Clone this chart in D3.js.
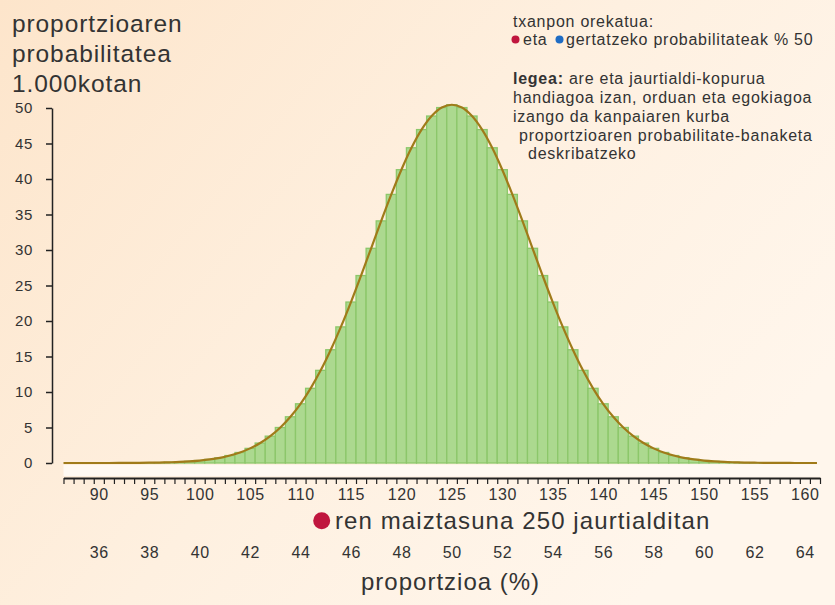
<!DOCTYPE html>
<html>
<head>
<meta charset="utf-8">
<script src="https://cdn.jsdelivr.net/npm/d3@7"></script>
<style>
  body { margin: 0; }
  svg { display: block; font-family: "Liberation Sans", Arial, sans-serif; }
  .tx { fill: #333; }
</style>
</head>
<body>
<svg id="chart" width="835" height="605"></svg>
<script>
// probabilitatea 1000 kotan, 250 jaurtialditan (87 .. 161)
var firstCount = 87;
var probs = [
  0.00, 0.00, 0.00, 0.00, 0.00, 0.01, 0.01, 0.02, 0.04, 0.06,
  0.10, 0.15, 0.23, 0.34, 0.50, 0.73, 1.05, 1.48, 2.06, 2.81,
  3.78, 5.00, 6.51, 8.34, 10.52, 13.05, 15.95, 19.17, 22.67, 26.40,
  30.24, 34.10, 37.83, 41.31, 44.40, 46.96, 48.87, 50.06, 50.46,
  50.06, 48.87, 46.96, 44.40, 41.31, 37.83, 34.10, 30.24, 26.40, 22.67,
  19.17, 15.95, 13.05, 10.52, 8.34, 6.51, 5.00, 3.78, 2.81, 2.06,
  1.48, 1.05, 0.73, 0.50, 0.34, 0.23, 0.15, 0.10, 0.06, 0.04,
  0.02, 0.01, 0.01, 0.00, 0.00, 0.00
];
var countTicks = [90, 95, 100, 105, 110, 115, 120, 125, 130, 135, 140, 145, 150, 155, 160];
var percentTicks = [36, 38, 40, 42, 44, 46, 48, 50, 52, 54, 56, 58, 60, 62, 64];
var yTicks = [0, 5, 10, 15, 20, 25, 30, 35, 40, 45, 50];
var flips = 250;

var data = probs.map(function(p, i){ return {k: firstCount + i, p: p}; });

var svg = d3.select('#chart');

// background
var defs = svg.append('defs');
var grad = defs.append('linearGradient').attr('id', 'bg')
    .attr('x1', 0).attr('y1', 0).attr('x2', 1).attr('y2', 0.6);
grad.append('stop').attr('offset', '0%').attr('stop-color', '#fde5cb');
grad.append('stop').attr('offset', '55%').attr('stop-color', '#fef0e0');
grad.append('stop').attr('offset', '100%').attr('stop-color', '#fff6ec');
svg.append('rect').attr('width', 835).attr('height', 605).attr('fill', 'url(#bg)');

var x = d3.scaleLinear().domain([86.5, 161.5]).range([63.5, 820]);
var y = d3.scaleLinear().domain([0, 50]).range([463, 108]);
var xp = d3.scaleLinear().domain([86.5 / flips * 100, 161.5 / flips * 100]).range([63.5, 820]);

// light band under bars
svg.append('rect')
    .attr('x', x(86.5)).attr('y', y(0) + 2)
    .attr('width', x(161.5) - x(86.5)).attr('height', 11)
    .attr('fill', '#fff9f2');

// bars
svg.append('g').selectAll('rect')
    .data(data.filter(function(d){ return d.p > 0; }))
    .enter()
    .append('rect')
    .attr('x', function(d){ return x(d.k - 0.5); })
    .attr('y', function(d){ return y(d.p); })
    .attr('width', function(d){ return x(d.k + 0.5) - x(d.k - 0.5); })
    .attr('height', function(d){ return y(0) - y(d.p); })
    .attr('fill', '#acd98f')
    .attr('stroke', '#8cc76a')
    .attr('stroke-width', 1.3);

// bell curve, flat tails run to the axis ends
var line = d3.line()
    .x(function(d){ return x(d.k); })
    .y(function(d){ return y(d.p); })
    .curve(d3.curveCatmullRom);
var curveData = [{k: 86.5, p: data[0].p}].concat(data, [{k: 161.2, p: data[data.length - 1].p}]);
svg.append('path')
    .datum(curveData)
    .attr('d', line)
    .attr('fill', 'none')
    .attr('stroke', '#a07b1a')
    .attr('stroke-width', 2.2);

// y axis
var yAxis = svg.append('g')
    .attr('transform', 'translate(52,0)')
    .call(d3.axisLeft(y).tickValues(yTicks).tickSize(6).tickSizeOuter(0).tickPadding(13));
yAxis.select('.domain').attr('stroke', '#222').attr('stroke-width', 1.5);
yAxis.selectAll('.tick line').attr('stroke', '#222').attr('stroke-width', 1.5);
yAxis.selectAll('.tick text')
    .attr('fill', '#333').style('font-size', '15px').style('letter-spacing', '0.6px')
    .attr('font-family', null);

// x axis: ticks at bin edges
var edgeTicks = data.map(function(d){ return d.k - 0.5; }).concat([161.5]);
var xAxis = svg.append('g')
    .attr('transform', 'translate(0,478)')
    .call(d3.axisBottom(x).tickValues(edgeTicks).tickSize(6).tickSizeOuter(0).tickFormat(''));
xAxis.select('.domain').attr('stroke', '#222').attr('stroke-width', 1.8);
xAxis.selectAll('.tick line').attr('stroke', '#222').attr('stroke-width', 1.2);

// count labels
var cAxis = svg.append('g')
    .attr('transform', 'translate(0,484)')
    .call(d3.axisBottom(x).tickValues(countTicks).tickSize(0).tickPadding(5));
cAxis.select('.domain').remove();
cAxis.selectAll('.tick text')
    .attr('fill', '#333').style('font-size', '16px').style('letter-spacing', '0.6px')
    .attr('font-family', null);

// percent labels
var pAxis = svg.append('g')
    .attr('transform', 'translate(0,542)')
    .call(d3.axisBottom(xp).tickValues(percentTicks).tickSize(0).tickPadding(5));
pAxis.select('.domain').remove();
pAxis.selectAll('.tick text')
    .attr('fill', '#333').style('font-size', '16px').style('letter-spacing', '0.6px')
    .attr('font-family', null);

// x titles
svg.append('circle').attr('cx', 321.7).attr('cy', 520.7).attr('r', 8.5).attr('fill', '#c0163e');
svg.append('text').attr('class', 'tx')
    .attr('x', 335).attr('y', 528.5)
    .style('font-size', '24px').style('letter-spacing', '1.1px')
    .text('ren maiztasuna ' + flips + ' jaurtialditan');
svg.append('text').attr('class', 'tx')
    .attr('x', 361).attr('y', 590)
    .style('font-size', '24px').style('letter-spacing', '1px')
    .text('proportzioa (%)');

// y title
var yTitle = ['proportzioaren', 'probabilitatea', '1.000kotan'];
svg.append('g').selectAll('text')
    .data(yTitle)
    .enter()
    .append('text').attr('class', 'tx')
    .attr('x', 12)
    .attr('y', function(d, i){ return 32 + i * 30; })
    .style('font-size', '24.5px').style('letter-spacing', '0.9px')
    .text(function(d){ return d; });

// note, top right
var note = svg.append('g').style('font-size', '16px').style('letter-spacing', '0.75px');
note.append('text').attr('class', 'tx').attr('x', 513).attr('y', 27).text('txanpon orekatua:');
note.append('circle').attr('cx', 515.5).attr('cy', 39.5).attr('r', 4).attr('fill', '#c0163e');
note.append('text').attr('class', 'tx').attr('x', 523).attr('y', 45).text('eta');
note.append('circle').attr('cx', 559.5).attr('cy', 39.5).attr('r', 4).attr('fill', '#1f6cc4');
note.append('text').attr('class', 'tx').attr('x', 566).attr('y', 45).text('gertatzeko probabilitateak % 50');

var law = note.append('text').attr('class', 'tx').attr('x', 513).attr('y', 84);
law.append('tspan').style('font-weight', 'bold').text('legea:');
law.append('tspan').text(' are eta jaurtialdi-kopurua');
var lawLines = [
  {t: 'handiagoa izan, orduan eta egokiagoa', dx: 0},
  {t: 'izango da kanpaiaren kurba', dx: 0},
  {t: 'proportzioaren probabilitate-banaketa', dx: 6},
  {t: 'deskribatzeko', dx: 15}
];
note.selectAll('text.law')
    .data(lawLines)
    .enter()
    .append('text').attr('class', 'tx law')
    .attr('x', function(d){ return 513 + d.dx; })
    .attr('y', function(d, i){ return 103 + i * 18.8; })
    .text(function(d){ return d.t; });
</script>
</body>
</html>
